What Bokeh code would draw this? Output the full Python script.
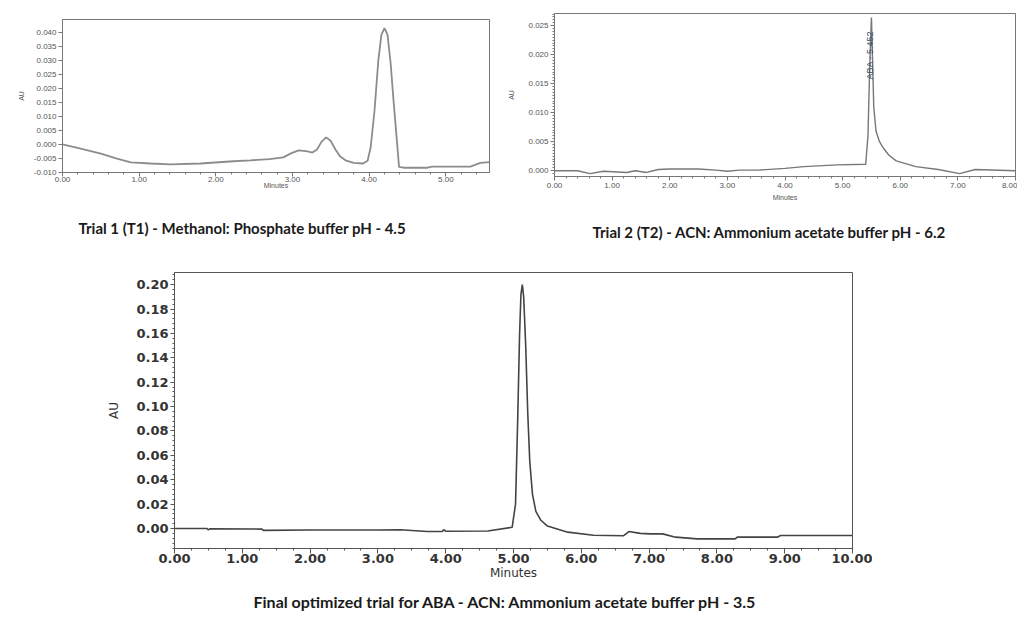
from bokeh.plotting import figure
from bokeh.layouts import column, row, Spacer
from bokeh.models import Range1d, Title, Label, FixedTicker, NumeralTickFormatter
from bokeh.embed import file_html
from bokeh.resources import INLINE
import numpy as np

# ---- Trial 1 (T1) data: time (min), absorbance (AU)
t1_time = [0.00, 0.25, 0.50, 0.70, 0.89, 1.15, 1.41, 1.80, 2.23, 2.45, 2.70, 2.88, 2.98, 3.08, 3.18,
           3.26, 3.32, 3.38, 3.44, 3.50, 3.56, 3.62, 3.70, 3.80, 3.92, 3.98, 4.02, 4.07, 4.12, 4.16,
           4.20, 4.24, 4.28, 4.32, 4.36, 4.39, 4.45, 4.76, 4.82, 5.32, 5.45, 5.57]
t1_au = [0.0000, -0.0016, -0.0033, -0.0050, -0.0064, -0.0068, -0.0071, -0.0068, -0.0060, -0.0057,
         -0.0052, -0.0046, -0.0032, -0.0021, -0.0024, -0.0029, -0.0018, 0.0010, 0.0025, 0.0012,
         -0.0018, -0.0042, -0.0058, -0.0066, -0.0068, -0.0058, -0.0010, 0.0120, 0.0300, 0.0390,
         0.0414, 0.0390, 0.0290, 0.0150, 0.0020, -0.0080, -0.0083, -0.0083, -0.0079, -0.0079,
         -0.0066, -0.0063]

# ---- Trial 2 (T2) data
t2_time = [0.00, 0.40, 0.62, 0.85, 1.25, 1.40, 1.60, 1.80, 2.00, 2.50, 2.80, 3.00, 3.20, 3.53, 4.00,
           4.33, 4.90, 5.40, 5.44, 5.47, 5.50, 5.52, 5.54, 5.58, 5.64, 5.70, 5.80, 5.93, 6.27, 6.66,
           7.03, 7.30, 8.00]
t2_au = [0.0000, 0.0000, -0.0005, -0.0001, -0.0003, 0.0000, -0.0003, 0.0002, 0.0003, 0.0003, 0.0001,
         -0.0001, 0.0001, 0.0001, 0.0004, 0.0007, 0.0010, 0.0011, 0.0060, 0.0180, 0.0264, 0.0190,
         0.0110, 0.0068, 0.0050, 0.0040, 0.0027, 0.0017, 0.0007, 0.0002, -0.0005, 0.0002, 0.0000]

# ---- Final optimized trial data
t3_time = [0.00, 0.48, 0.50, 0.52, 1.29, 1.31, 2.00, 3.00, 3.33, 3.73, 3.95, 3.97, 4.00, 4.62, 4.98,
           5.03, 5.06, 5.09, 5.11, 5.13, 5.15, 5.18, 5.21, 5.24, 5.28, 5.33, 5.40, 5.50, 5.80, 6.18,
           6.62, 6.70, 6.87, 7.02, 7.20, 7.39, 7.71, 8.27, 8.30, 8.89, 8.94, 10.00]
t3_au = [0.0000, 0.0000, -0.0012, -0.0002, -0.0005, -0.0015, -0.0012, -0.0012, -0.0010, -0.0025,
         -0.0025, -0.0010, -0.0022, -0.0020, 0.0010, 0.0200, 0.0850, 0.1600, 0.1920, 0.2000,
         0.1900, 0.1500, 0.0950, 0.0550, 0.0280, 0.0140, 0.0070, 0.0020, -0.0030, -0.0055,
         -0.0060, -0.0025, -0.0040, -0.0044, -0.0044, -0.0071, -0.0085, -0.0085, -0.0071,
         -0.0071, -0.0057, -0.0057]

captions = ["Trial 1 (T1) - Methanol: Phosphate buffer pH - 4.5",
            "Trial 2 (T2) - ACN: Ammonium acetate buffer pH - 6.2",
            "Final optimized trial for ABA - ACN: Ammonium acetate buffer pH - 3.5"]
peak_label = "ABA - 5.452"

CAP_FONT = "Lato"


def style(p, tick_font, tick_size, tick_color, axis_color, lab_size, tick_style="normal"):
    p.frame_align = False
    p.grid.visible = False
    p.outline_line_color = axis_color
    p.outline_line_width = 1
    p.background_fill_color = "white"
    p.border_fill_color = "white"
    for ax in (p.xaxis[0], p.yaxis[0]):
        ax.axis_line_color = axis_color
        ax.major_tick_line_color = axis_color
        ax.minor_tick_line_color = axis_color
        ax.major_tick_in = 0
        ax.major_tick_out = 4
        ax.minor_tick_in = 0
        ax.minor_tick_out = 2
        ax.major_label_text_font = tick_font
        ax.major_label_text_font_size = tick_size
        ax.major_label_text_font_style = tick_style
        ax.major_label_text_color = tick_color
        ax.major_label_standoff = 2
        ax.axis_label_text_font = tick_font
        ax.axis_label_text_font_size = lab_size
        ax.axis_label_text_font_style = "normal"
        ax.axis_label_text_color = tick_color


def add_caption(p, text, offset, gap, size):
    # empty spacer title to push the caption down, then the caption itself
    p.add_layout(Title(text=" ", text_font_size="1px", standoff=gap), "below")
    p.add_layout(Title(text=text, align="left", offset=offset, standoff=0,
                       text_font=CAP_FONT, text_font_size=size, text_font_style="bold",
                       text_color="#1a1a1a"), "below")


# ---------- Chart 1 ----------
p1 = figure(width=492, height=242, output_backend="svg", toolbar_location=None,
            x_range=Range1d(0, 5.57), y_range=Range1d(-0.010, 0.0445),
            min_border_left=54, min_border_right=11, min_border_top=11, min_border_bottom=78)
p1.line(t1_time, t1_au, line_color="#8c8c8c", line_width=1.8)
style(p1, "Liberation Sans", "8px", "#555555", "#777777", "7px")
p1.xaxis.ticker = FixedTicker(ticks=[0, 1, 2, 3, 4, 5],
                              minor_ticks=[round(i * 0.2, 2) for i in range(0, 28)])
p1.yaxis.ticker = FixedTicker(ticks=[round(-0.010 + 0.005 * i, 3) for i in range(11)])
p1.xaxis.formatter = NumeralTickFormatter(format="0.00")
p1.yaxis.formatter = NumeralTickFormatter(format="0.000")
p1.xaxis.axis_label = "Minutes"
p1.yaxis.axis_label = "AU"
p1.xaxis.major_label_standoff = 0
p1.xaxis.axis_label_standoff = -3
p1.yaxis.axis_label_standoff = 6
add_caption(p1, captions[0], 16, 22, "15px")

# ---------- Chart 2 ----------
p2 = figure(width=517, height=242, output_backend="svg", toolbar_location=None,
            x_range=Range1d(0, 8.0), y_range=Range1d(-0.001, 0.0271),
            min_border_left=54, min_border_right=2, min_border_top=5, min_border_bottom=74)
p2.line(t2_time, t2_au, line_color="#777777", line_width=1.4)
style(p2, "Liberation Sans", "8px", "#555555", "#777777", "7px")
p2.xaxis.ticker = FixedTicker(ticks=list(range(0, 9)),
                              minor_ticks=[round(i * 0.2, 2) for i in range(0, 41)])
p2.yaxis.ticker = FixedTicker(ticks=[round(0.005 * i, 3) for i in range(6)],
                              minor_ticks=[round(-0.0005 + 0.0005 * i, 4) for i in range(56)])
p2.xaxis.formatter = NumeralTickFormatter(format="0.00")
p2.yaxis.formatter = NumeralTickFormatter(format="0.000")
p2.xaxis.axis_label = "Minutes"
p2.yaxis.axis_label = "AU"
p2.xaxis.major_label_standoff = 2
p2.xaxis.axis_label_standoff = 3
p2.yaxis.axis_label_standoff = 10
p2.add_layout(Label(x=5.47, y=0.0199, text=peak_label, angle=np.pi / 2,
                    text_align="center", text_baseline="middle",
                    text_font_size="9px", text_color="#3a4a6a"))
add_caption(p2, captions[1], 38, 14, "15px")

# ---------- Chart 3 ----------
p3 = figure(width=772, height=368, output_backend="svg", toolbar_location=None,
            x_range=Range1d(0, 10.0), y_range=Range1d(-0.0164, 0.21),
            min_border_left=74, min_border_right=20, min_border_top=22, min_border_bottom=70)
p3.line(t3_time, t3_au, line_color="#444444", line_width=1.6)
style(p3, "DejaVu Sans", "13px", "#333333", "#555555", "12px", tick_style="bold")
p3.xaxis.ticker = FixedTicker(ticks=list(range(0, 11)),
                              minor_ticks=[round(i * 0.25, 2) for i in range(0, 41)])
p3.yaxis.ticker = FixedTicker(ticks=[round(0.02 * i, 2) for i in range(11)],
                              minor_ticks=[round(-0.016 + 0.004 * i, 3) for i in range(57)])
p3.xaxis.formatter = NumeralTickFormatter(format="0.00")
p3.yaxis.formatter = NumeralTickFormatter(format="0.00")
p3.xaxis.axis_label = "Minutes"
p3.yaxis.axis_label = "AU"
p3.xaxis.major_tick_out = 5
p3.xaxis.major_label_standoff = 0
p3.xaxis.axis_label_standoff = 0
p3.yaxis.axis_label_standoff = 12
add_caption(p3, captions[2], 79, 4, "16px")

layout = column(Spacer(width=10, height=8),
                row(Spacer(width=8, height=10), p1, p2),
                row(Spacer(width=100, height=10), p3))

open("out.html", "w").write(file_html(layout, INLINE))
